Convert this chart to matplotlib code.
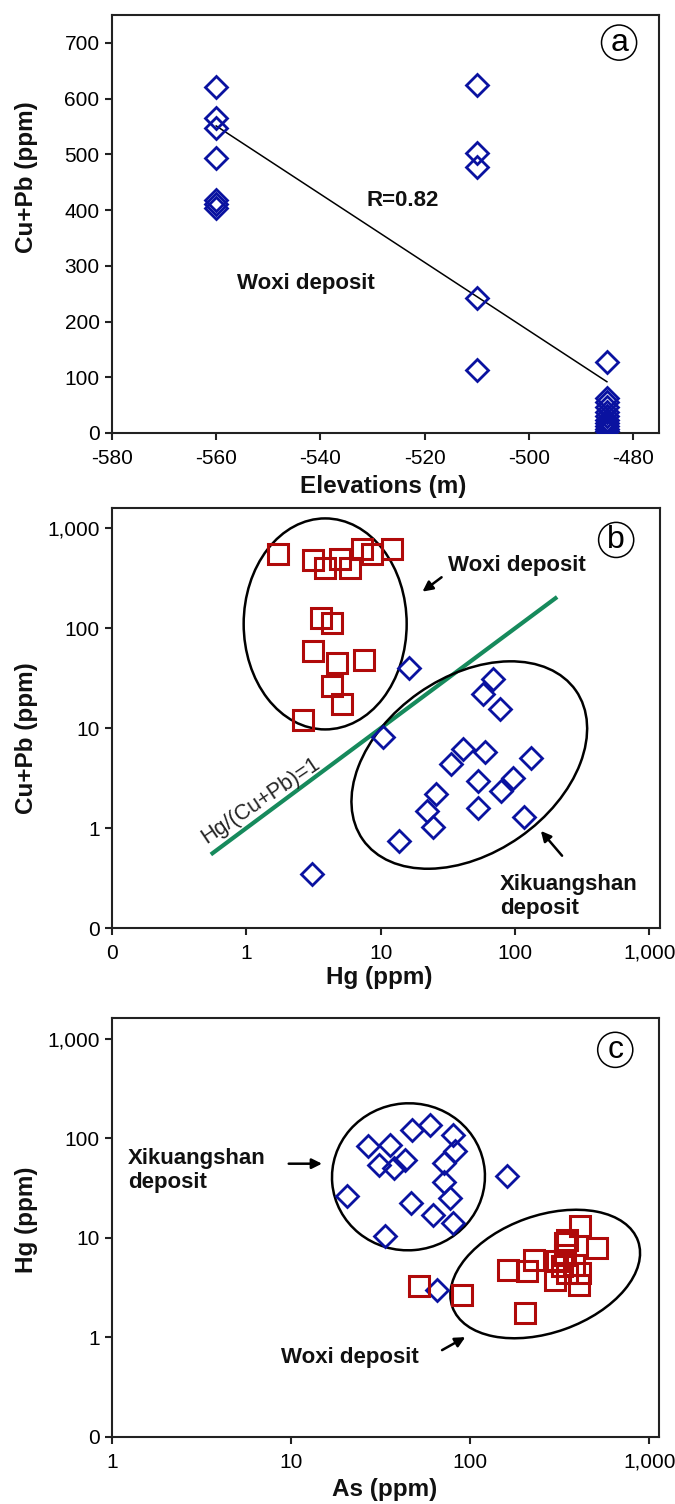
import matplotlib
matplotlib.use("Agg")
import matplotlib.pyplot as plt
import matplotlib.transforms as mtransforms
from matplotlib.patches import Ellipse
from matplotlib.ticker import NullLocator

plt.rcParams['font.family'] = ['Liberation Sans', 'DejaVu Sans']
plt.rcParams['axes.unicode_minus'] = False

BLUE = '#0a12a0'
RED = '#b00a0a'

# panel a: elevation vs Cu+Pb (Woxi)
elev_a = [-560] * 7 + [-510] * 5 + [-485] * 11
cupb_a = [620, 565, 547, 493, 418, 410, 404,
          625, 502, 478, 243, 113,
          128, 62, 55, 47, 38, 30, 24, 18, 12, 7, 3]
fit_x = [-560, -485]
fit_y = [551, 92]

# panel b: Hg vs Cu+Pb
woxi_hg_b = [1.73, 3.15, 3.87, 5.0, 5.93, 7.28, 8.65, 12.2,
             3.61, 4.36, 3.15, 4.75, 7.54, 4.36, 5.17, 2.65]
woxi_cupb_b = [560, 488, 405, 499, 405, 629, 560, 629,
               128, 114, 59.6, 45, 48.4, 26.5, 17.5, 12.1]
xks_hg_b = [16.3, 68.3, 57.5, 77.4, 10.4, 41.3, 59.8, 33.3, 131.6, 52.8,
            97, 78.2, 25.9, 22.0, 52.8, 117, 24.7, 13.8, 3.08]
xks_cupb_b = [39.6, 31, 21.9, 15.5, 8.18, 6.15, 5.78, 4.42, 5.0, 2.96,
              3.19, 2.35, 2.21, 1.48, 1.6, 1.30, 1.02, 0.74, 0.348]
ratio_line = [0.56, 200]

# panel c: As vs Hg
xks_as_c = [26.9, 31, 35.5, 37.6, 43.2, 47, 59.7, 79.7, 81.8, 71.3,
            71.3, 77.4, 62, 46.4, 20.4, 33.6, 79.7, 160, 65.5]
xks_hg_c = [83, 54.5, 86.4, 50.4, 61, 122, 137, 109, 74, 56.6,
            36.1, 25.2, 17.1, 22.4, 26.1, 10.5, 14.1, 42.2, 3.0]
woxi_as_c = [51.9, 89.8, 202, 163, 207, 226, 304, 339, 410, 508,
             298, 346, 402, 410, 324, 377, 339, 348]
woxi_hg_c = [3.26, 2.69, 1.76, 4.79, 4.6, 6.04, 5.8, 8.9, 13.1, 7.9,
             3.8, 4.44, 3.39, 4.44, 5.17, 5.38, 6.78, 9.5]

log_ticks = [0.1, 1, 10, 100, 1000]
log_labels = ['0', '1', '10', '100', '1,000']

fig = plt.figure(figsize=(6.75, 15.04), dpi=100)
W, H = 675.0, 1504.0


def make_axes(left, top, right, bottom):
    return fig.add_axes([left / W, 1 - bottom / H, (right - left) / W, (bottom - top) / H])


def style(ax):
    for s in ax.spines.values():
        s.set_linewidth(1.5)
        s.set_color('#222222')
    ax.tick_params(direction='out', length=5, width=1.5, labelsize=15, color='#222222', pad=4)
    ax.tick_params(axis='x', pad=6.5)
    ax.tick_params(top=False, right=False)


def ellipse(ax, fx, fy, w_px, h_px, angle):
    trans = fig.dpi_scale_trans + mtransforms.ScaledTranslation(fx, fy, ax.transAxes)
    e = Ellipse((0, 0), w_px / 100, h_px / 100, angle=angle, transform=trans,
                fill=False, ec='black', lw=1.8, zorder=2)
    ax.add_patch(e)


def panel_tag(ax, fx, fy, letter):
    ax.text(fx, fy, letter, transform=ax.transAxes, ha='center', va='center', fontsize=23,
            bbox=dict(boxstyle='circle,pad=0.08', fc='white', ec='black', lw=1.1))


def arrow(ax, start, end):
    ax.annotate('', xy=end, xytext=start,
                arrowprops=dict(arrowstyle='-|>,head_length=0.6,head_width=0.3', color='black', lw=1.8))


bold = dict(fontsize=16, fontweight='bold', color='#111111')
lab = dict(fontsize=17.5, fontweight='bold', color='#111111')
dmk = dict(marker='D', ms=11.5, mfc='none', mec=BLUE, mew=2, ls='none', zorder=3)
smk = dict(marker='s', ms=15, mfc='none', mec=RED, mew=2.2, ls='none', zorder=3)

# ---- a
ax = make_axes(112, 15, 659, 433)
ax.plot(elev_a, cupb_a, **dmk)
ax.plot(fit_x, fit_y, color='black', lw=1.1, zorder=2)
ax.set_xlim(-580, -475)
ax.set_ylim(0, 750)
ax.set_xticks(range(-580, -479, 20))
ax.set_yticks(range(0, 701, 100))
ax.text(-524.2, 418, 'R=0.82', ha='center', va='center', **bold)
ax.text(-542.7, 269, 'Woxi deposit', ha='center', va='center', **bold)
ax.set_xlabel('Elevations (m)', **lab)
ax.set_ylabel('Cu+Pb (ppm)', **lab)
ax.xaxis.set_label_coords(0.496, -0.101)
ax.yaxis.set_label_coords(-0.135, 0.612)
style(ax)
panel_tag(ax, 0.927, 0.934, 'a')

# ---- b
ax = make_axes(112, 508, 660, 928)
ax.set_xscale('log')
ax.set_yscale('log')
ax.set_xlim(0.1, 1200)
ax.set_ylim(0.1, 1600)
ax.plot(ratio_line, ratio_line, color='#168a5c', lw=3, zorder=1)
ax.plot(woxi_hg_b, woxi_cupb_b, **smk)
ax.plot(xks_hg_b, xks_cupb_b, **dmk)
ellipse(ax, 0.389, 0.724, 163, 211, 0)
ellipse(ax, 0.652, 0.388, 260, 176, 35)
ax.text(1.27, 1.9, 'Hg/(Cu+Pb)=1', rotation=34, ha='center', va='center',
        fontsize=15.5, rotation_mode='anchor', color='#222222')
ax.text(31.8, 424, 'Woxi deposit', ha='left', va='center', **bold)
arrow(ax, (29.5, 337), (19.7, 224))
ax.text(77.3, 0.208, 'Xikuangshan\ndeposit', ha='left', va='center', linespacing=1.2, **bold)
arrow(ax, (231, 0.504), (151, 0.984))
ax.set_xticks(log_ticks)
ax.set_xticklabels(log_labels)
ax.set_yticks(log_ticks)
ax.set_yticklabels(log_labels)
ax.xaxis.set_minor_locator(NullLocator())
ax.yaxis.set_minor_locator(NullLocator())
ax.set_xlabel('Hg (ppm)', **lab)
ax.set_ylabel('Cu+Pb (ppm)', **lab)
ax.xaxis.set_label_coords(0.487, -0.09)
ax.yaxis.set_label_coords(-0.135, 0.452)
style(ax)
panel_tag(ax, 0.92, 0.924, 'b')

# ---- c
ax = make_axes(112, 1018, 659, 1437)
ax.set_xscale('log')
ax.set_yscale('log')
ax.set_xlim(1, 1130)
ax.set_ylim(0.1, 1620)
ax.plot(xks_as_c, xks_hg_c, **dmk)
ax.plot(woxi_as_c, woxi_hg_c, **smk)
ellipse(ax, 0.542, 0.621, 153, 147, 5)
ellipse(ax, 0.792, 0.389, 197, 117, 19.6)
ax.text(1.23, 47.9, 'Xikuangshan\ndeposit', ha='left', va='center', linespacing=1.2, **bold)
arrow(ax, (9.35, 55.7), (15.4, 55.7))
ax.text(8.81, 0.625, 'Woxi deposit', ha='left', va='center', **bold)
arrow(ax, (67.4, 0.723), (96.7, 1.04))
ax.set_xticks(log_ticks[1:])
ax.set_xticklabels(log_labels[1:])
ax.set_yticks(log_ticks)
ax.set_yticklabels(log_labels)
ax.xaxis.set_minor_locator(NullLocator())
ax.yaxis.set_minor_locator(NullLocator())
ax.set_xlabel('As (ppm)', **lab)
ax.set_ylabel('Hg (ppm)', **lab)
ax.xaxis.set_label_coords(0.498, -0.098)
ax.yaxis.set_label_coords(-0.135, 0.518)
style(ax)
panel_tag(ax, 0.92, 0.924, 'c')

fig.savefig('out.png', dpi=100)
